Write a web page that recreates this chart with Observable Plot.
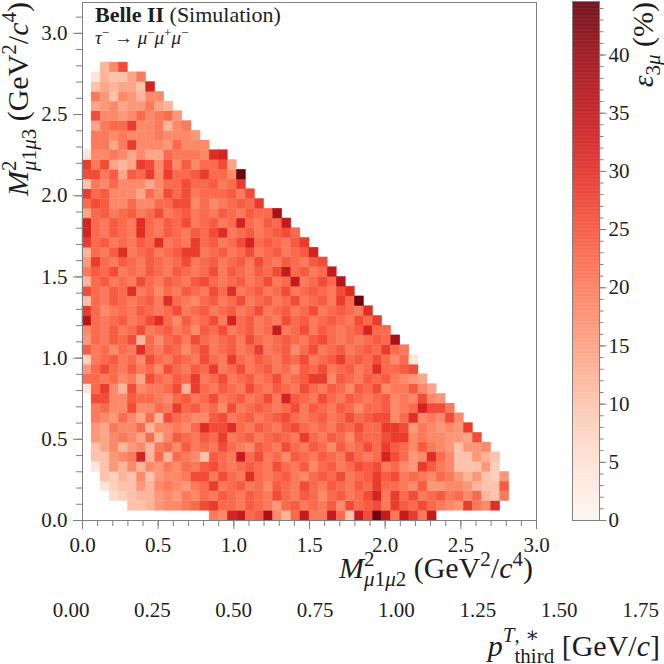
<!DOCTYPE html>
<html><head><meta charset="utf-8">
<script src="https://cdn.jsdelivr.net/npm/d3@7"></script>
<script src="https://cdn.jsdelivr.net/npm/@observablehq/plot@0.6"></script>
<style>
body{margin:0;background:#fff;}
#chart{position:relative;width:664px;height:664px;overflow:hidden;}
#chart svg{position:absolute;left:0;top:0;overflow:visible;}
</style></head><body><div id="chart"></div>
<script>
// ---- data: 2D histogram of efficiency (%), bins of 0.06 GeV^2/c^4 ----
const binSize = 0.06;
// first x-bin index of each y-row (row j = M2_13 bin j, bottom to top)
const rowStart = [14,5,3,2,2,1,1,1,1,1,1,1,1,
  0,0,0,0,0,0,0,0,0,0,0,0,0,0,0,0,0,0,0,0,0,0,0,0,0,
  1,1,1,1,1,1,1,1,2];
// one letter per cell: a=0%, b=2%, c=4%, ... w=44%  (value = 2 * letter index)
const rowCells = [
  "kjqrl mtjgl rkkrl frnwr krokr",
  "ffgij jklno llkml kilmk lkmjn lmnko mlnlk jiokj p",
  "defgg ijikj lkmlk mlknl kmljl mklnq kolnk lmklj lgfk",
  "ceffi gjkji klokl mkljm lknlk mlkml ollkj miijj igffm",
  "fegfj fijjk nnknl kplkl mkjlm lnklm omnkl kjlki gifei",
  "cfigj gjikj lkmnl klmlk nlkmj lmkln mnklj iomkj fffie",
  "ffijk qglgl kjfml krlnk ljmlk mlknl klqnl ijplj ffigf",
  "fhjgi jgklj mklkn lkjml knlkm ljmkl nloml jmkji fiij",
  "ihjkj hlgjm lkmlo klmkl mlkol kmljm llnoo jkjji ihn",
  "ihkjj lgjjk jlpnn plkml kmnlk lkmln lloon ikjij io",
  "kjilj hlgnl kjjmn klmkl mnlkl mklnl mnnjl pjkjn j",
  "kljjn jjlko lmklj nklml klnkm lkmlj llmjk lqnnk",
  "nnjjm llkjl mklnk lmkln kqmlk nlkml klmjk jnji",
  "clojg njkkl ngolk mlknl kmlkn lkmlj mlnjk kmjh",
  "llklj khnlk mlokl nklmk lnklm oojml kmlmk jih",
  "ilnlk mkljn lkmlo klnkl mkljm lnklm klpll mn",
  "eklmk ljnlk mlknl kolkm lkmln klmol mlnlj lc",
  "mkljl kplkm ljlnk lmklo klmjl nklmk lmlol k",
  "ilkml ngljl mknlk lmknl klmlk mnlkl klmlt",
  "jlkmk lnklm kljml nklmk lrkln kmlkl mqll",
  "slklm klnpl jmkln kqlmk lknlm klmlk nlo",
  "oljkl kmlkl nklmk lmkln klmkl nklml kp",
  "flkml klmkp lkjlm klnkl mklnk lmkol w",
  "nlkml pkljl kmlkn lpklm klnkl mlknp",
  "glmkl knlkm lkmnl klmkl nklrk lnls",
  "kmlnk lkmlk mlkln kmlkm lnrlm klr",
  "iolkm lkmlk lnklm klmkn lkmlk mn",
  "glkmp klmkl mookl mklnk lmklm q",
  "olmkl kmlpk lkolm klnql mlkmo",
  "qlkml kplkm lkmln pklmk lmnl",
  "qlkml kplkm lnklm klqlk mlr",
  "hlmkl mklnk lmklk mlkml lt",
  "lnmjj ljjll nnjlj klmlo",
  "olmjj jhljn lnkll lmkn",
  "fkjlj jjhjl lnllm klo",
  "nnkmh mlojo llmol ljw",
  "oknhg honjn jmjll nh",
  "cjjkj hjhhl kkkjp q",
  "kkhko jjjil jjj",
  "kkjkj jjkjj ji",
  "hkllo jjkgj k",
  "njjij ljkli",
  "hijhi ikhg",
  "kifji gjj",
  "fhghh fq",
  "cgffh k",
  "gjn"
];
const xTicks = [0, 0.5, 1.0, 1.5, 2.0, 2.5, 3.0];
const yTicks = [0, 0.5, 1.0, 1.5, 2.0, 2.5, 3.0];
const cbTicks = [0, 5, 10, 15, 20, 25, 30, 35, 40];
const pTicks = [0, 0.25, 0.5, 0.75, 1.0, 1.25, 1.5, 1.75];
const effMax = 44.6;
const xDomain = [0, 3.0], yDomain = [0, 3.19], pDomain = [0, 1.75];

// ---- build cell table ----
const cells = [];
rowCells.forEach((s, j) => {
  [...s.replace(/ /g, "")].forEach((c, k) => {
    cells.push({i: rowStart[j] + k, j, eff: 2 * (c.charCodeAt(0) - 97)});
  });
});

const W = 664, H = 664;
const FONT = "'Liberation Serif', 'DejaVu Serif', serif";
const grey = "#808080";
const ink = "#1e1e1e";
const baseStyle = {fontFamily: FONT, fontSize: "21px", color: ink, background: "transparent"};
const xMinor = d3.range(0, 3.001, 0.1);
const yMinor = d3.range(0, 3.19, 0.1);
const cbMinor = d3.range(0, 45, 1);

const main = Plot.plot({
  width: W, height: H,
  marginLeft: 82, marginRight: W - 536, marginTop: 2, marginBottom: H - 520,
  style: baseStyle,
  x: {domain: xDomain, axis: null},
  y: {domain: yDomain, axis: null},
  color: {type: "linear", scheme: "reds", domain: [0, effMax]},
  marks: [
    Plot.rect(cells, {
      x1: d => d.i * binSize, x2: d => (d.i + 1) * binSize,
      y1: d => d.j * binSize, y2: d => (d.j + 1) * binSize,
      fill: "eff", stroke: "eff", strokeWidth: 0.4
    }),
    Plot.frame({stroke: grey}),
    Plot.axisX({ticks: xMinor, tickSize: 6, fill: "none", stroke: grey, label: null}),
    Plot.axisX({ticks: xTicks, tickSize: 9, fill: "none", stroke: grey, label: null}),
    Plot.axisX({ticks: xTicks, tickSize: 0, tickPadding: 17, tickFormat: d => d.toFixed(1), fontSize: 21, label: null}),
    Plot.axisY({ticks: yMinor, tickSize: 6, fill: "none", stroke: grey, label: null}),
    Plot.axisY({ticks: yTicks, tickSize: 9, fill: "none", stroke: grey, label: null}),
    Plot.axisY({ticks: yTicks, tickSize: 0, tickPadding: 15, tickFormat: d => d.toFixed(1), fontSize: 21, label: null})
  ]
});

const cbVals = d3.range(0, effMax, 0.05);
const cbar = Plot.plot({
  width: W, height: H,
  marginLeft: 572, marginRight: W - 599, marginTop: 1, marginBottom: H - 520,
  style: baseStyle,
  x: {domain: [0, 1], axis: null},
  y: {domain: [0, effMax], axis: null},
  color: {type: "linear", scheme: "reds", domain: [0, effMax]},
  marks: [
    Plot.rect(cbVals, {x1: 0, x2: 1, y1: d => d, y2: d => Math.min(d + 0.07, effMax), fill: d => d}),
    Plot.frame({stroke: grey}),
    Plot.axisY({anchor: "right", ticks: cbMinor, tickSize: 3.5, fill: "none", stroke: grey, label: null}),
    Plot.axisY({anchor: "right", ticks: cbTicks, tickSize: 6.5, fill: "none", stroke: grey, label: null}),
    Plot.axisY({anchor: "right", ticks: cbTicks, tickSize: 0, tickPadding: 9, fontSize: 21, label: null, tickFormat: d => String(d)})
  ]
});

const paxis = Plot.plot({
  width: W, height: H,
  marginLeft: 70.5, marginRight: W - 640, marginTop: 0, marginBottom: H - 600,
  style: baseStyle,
  x: {domain: pDomain, axis: null},
  marks: [
    Plot.axisX({ticks: pTicks, tickSize: 0, tickPadding: 2, tickFormat: d => d.toFixed(2), fontSize: 21, label: null})
  ]
});

const chart = document.getElementById("chart");
chart.append(main, cbar, paxis);

// ---- math-style labels as real SVG text ----
function mathText(svg, {x, y, rotate = 0, anchor = "end", size = 30}, parts) {
  const t = d3.select(svg).append("text")
    .attr("transform", `translate(${x},${y}) rotate(${rotate})`)
    .attr("text-anchor", anchor)
    .attr("font-family", FONT).attr("font-size", size).attr("fill", ink)
    .style("white-space", "pre");
  let prev = null;
  for (const p of parts) {
    const s = t.append("tspan").text(p.t);
    if (p.i) s.attr("font-style", "italic");
    if (p.b) s.attr("font-weight", "bold");
    if (p.s) s.attr("font-size", p.s);
    if (p.dy) s.attr("dy", p.dy);
    let dx = p.dx || 0;
    if (p.back && prev) dx -= prev.node().getComputedTextLength();
    if (dx) s.attr("dx", dx);
    prev = s;
  }
  return t;
}

const S = 21;
mathText(main, {x: 533, y: 578}, [
  {t: "M", i: 1}, {t: "2", s: S, dy: -12},
  {t: "μ", i: 1, s: S, dy: 20, back: 1}, {t: "1", s: S}, {t: "μ", i: 1, s: S}, {t: "2", s: S},
  {t: " (GeV", dy: -8}, {t: "2", s: S, dy: -12}, {t: "/", dy: 12}, {t: "c", i: 1},
  {t: "4", s: S, dy: -12}, {t: ")", dy: 12}
]);
mathText(main, {x: 28, y: 2, rotate: -90}, [
  {t: "M", i: 1}, {t: "2", s: S, dy: -12},
  {t: "μ", i: 1, s: S, dy: 20, back: 1}, {t: "1", s: S}, {t: "μ", i: 1, s: S}, {t: "3", s: S},
  {t: " (GeV", dy: -8}, {t: "2", s: S, dy: -12}, {t: "/", dy: 12}, {t: "c", i: 1},
  {t: "4", s: S, dy: -12}, {t: ")", dy: 12}
]);
mathText(main, {x: 653, y: 2, rotate: -90}, [
  {t: "ε", i: 1}, {t: "3", s: S, dy: 7}, {t: "μ", i: 1, s: S}, {t: " (%)", dy: -7}
]);
mathText(main, {x: 660, y: 656}, [
  {t: "p", i: 1}, {t: "T", i: 1, s: S, dy: -14}, {t: ", ∗", s: S},
  {t: "third", s: S, dy: 21, back: 1},
  {t: " [GeV/", dy: -7}, {t: "c", i: 1}, {t: "]"}
]);
mathText(main, {x: 95, y: 22, anchor: "start", size: 22}, [
  {t: "Belle II", b: 1}, {t: " (Simulation)"}
]);
mathText(main, {x: 95, y: 44, anchor: "start", size: 19}, [
  {t: "τ", i: 1}, {t: "−", s: 13, dy: -7}, {t: " → ", dy: 7},
  {t: "μ", i: 1}, {t: "−", s: 13, dy: -7}, {t: "μ", i: 1, dy: 7}, {t: "+", s: 13, dy: -7},
  {t: "μ", i: 1, dy: 7}, {t: "−", s: 13, dy: -7}
]);
</script>
</body></html>
